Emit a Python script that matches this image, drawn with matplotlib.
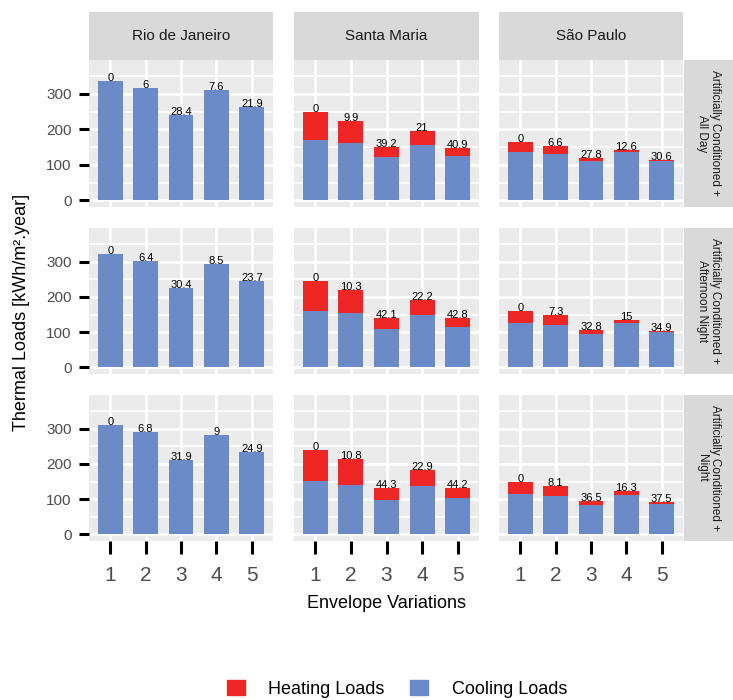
import numpy as np
import matplotlib.pyplot as plt
from matplotlib.patches import Patch

plt.rcParams['font.family'] = ['Liberation Sans', 'DejaVu Sans']

# data
cities = ["Rio de Janeiro", "Santa Maria", "São Paulo"]
schedules = ["Artificially Conditioned +\nAll Day",
             "Artificially Conditioned +\nAfternoon Night",
             "Artificially Conditioned +\nNight"]
variations = [1, 2, 3, 4, 5]

# All Day
cool_allday = [[336, 317, 241, 312, 263], [169, 161, 122, 157, 125], [136, 131, 110, 136, 111]]
heat_allday = [[1, 0, 0, 0, 0], [79.5, 63, 29, 39, 22], [28, 22, 8.5, 7, 3]]
lab_allday = [["0", "6", "28.4", "7.6", "21.9"], ["0", "9.9", "39.2", "21", "40.9"],
              ["0", "6.6", "27.8", "12.6", "30.6"]]

# Afternoon Night
cool_aftnight = [[322, 302, 224.5, 295, 246], [160, 153, 110, 148, 114], [125, 120.5, 95, 125, 100]]
heat_aftnight = [[1, 0, 0, 0, 0], [84, 66, 31, 42, 26], [34, 27, 12, 10, 3.5]]
lab_aftnight = [["0", "6.4", "30.4", "8.5", "23.7"], ["0", "10.3", "42.1", "22.2", "42.8"],
                ["0", "7.3", "32.8", "15", "34.9"]]

# Night
cool_night = [[311, 290, 212, 283, 234], [151.5, 140, 98.5, 138, 104], [115.5, 109, 82, 112.5, 87]]
heat_night = [[1, 0, 0, 0, 0], [87, 73, 34.5, 46, 29], [33, 27.5, 12.5, 12, 6]]
lab_night = [["0", "6.8", "31.9", "9", "24.9"], ["0", "10.8", "44.3", "22.9", "44.2"],
             ["0", "8.1", "36.5", "16.3", "37.5"]]

cooling = [cool_allday, cool_aftnight, cool_night]
heating = [heat_allday, heat_aftnight, heat_night]
labels = [lab_allday, lab_aftnight, lab_night]

red = '#EE2624'
blue = '#6A8BC8'
panel_bg = '#EBEBEB'
strip_bg = '#D9D9D9'

W, H = 733, 700
fig = plt.figure(figsize=(W / 100, H / 100), dpi=100)

col_x = [(89, 273), (294, 479), (499, 683)]
row_y = [(60, 207), (228, 374), (395, 541)]


def box(x0, x1, y0, y1):
    return [x0 / W, 1 - y1 / H, (x1 - x0) / W, (y1 - y0) / H]


for r in range(3):
    for c in range(3):
        ax = fig.add_axes(box(*col_x[c], *row_y[r]))
        ax.set_facecolor(panel_bg)
        cool = np.array(cooling[r][c])
        heat = np.array(heating[r][c])
        ax.bar(variations, cool, width=0.7, color=blue, zorder=2)
        ax.bar(variations, heat, bottom=cool, width=0.7, color=red, zorder=2)
        for xi, tot, lab in zip(variations, cool + heat, labels[r][c]):
            ax.text(xi, tot, lab, ha='center', va='baseline', fontsize=8, zorder=3)

        ax.set_xlim(0.4, 5.6)
        ax.set_ylim(-18.9, 395.9)
        ax.set_xticks(variations)
        ax.set_yticks([0, 100, 200, 300])
        ax.set_yticks([50, 150, 250, 350], minor=True)
        ax.grid(which='major', color='white', lw=2.0, zorder=0)
        ax.grid(which='minor', axis='y', color='white', lw=1.2, zorder=0)
        ax.set_axisbelow(True)
        for s in ax.spines.values():
            s.set_visible(False)

        ax.tick_params(which='minor', length=0)
        ax.tick_params(axis='y', length=7, width=2.2, color='black', pad=5.5,
                       labelsize=11, labelcolor='#4D4D4D')
        ax.tick_params(axis='x', length=9, width=2.2, color='black', pad=9,
                       labelsize=15, labelcolor='#4D4D4D')
        if c > 0:
            ax.tick_params(axis='y', length=0, labelleft=False)
        if r < 2:
            ax.tick_params(axis='x', length=0, labelbottom=False)

# top strips
for c in range(3):
    sax = fig.add_axes(box(col_x[c][0], col_x[c][1], 12, 60))
    sax.set_facecolor(strip_bg)
    sax.set_xticks([])
    sax.set_yticks([])
    for s in sax.spines.values():
        s.set_visible(False)
    sax.text(0.5, 0.5, cities[c], ha='center', va='center', fontsize=11,
             color='#1A1A1A', transform=sax.transAxes)

# right strips
for r in range(3):
    sax = fig.add_axes(box(684, 733, *row_y[r]))
    sax.set_facecolor(strip_bg)
    sax.set_xticks([])
    sax.set_yticks([])
    for s in sax.spines.values():
        s.set_visible(False)
    sax.text(0.5, 0.5, schedules[r], ha='center', va='center', fontsize=8.5,
             rotation=-90, linespacing=1.15, color='#1A1A1A', transform=sax.transAxes)

# axis titles
fig.text(22 / W, 1 - 312 / H, 'Thermal Loads [kWh/m².year]', rotation=90,
         ha='center', va='center', fontsize=13)
fig.text(386 / W, 1 - 603 / H, 'Envelope Variations', ha='center', va='center', fontsize=13)

# legend
handles = [Patch(color=red, label='Heating Loads'), Patch(color=blue, label='Cooling Loads')]
fig.legend(handles=handles, loc='center', bbox_to_anchor=(397 / W, 1 - 689 / H), ncol=2,
           frameon=False, fontsize=13, handlelength=1.0, handleheight=0.9,
           handletextpad=1.3, columnspacing=1.4)

fig.savefig('out.png', dpi=100)
